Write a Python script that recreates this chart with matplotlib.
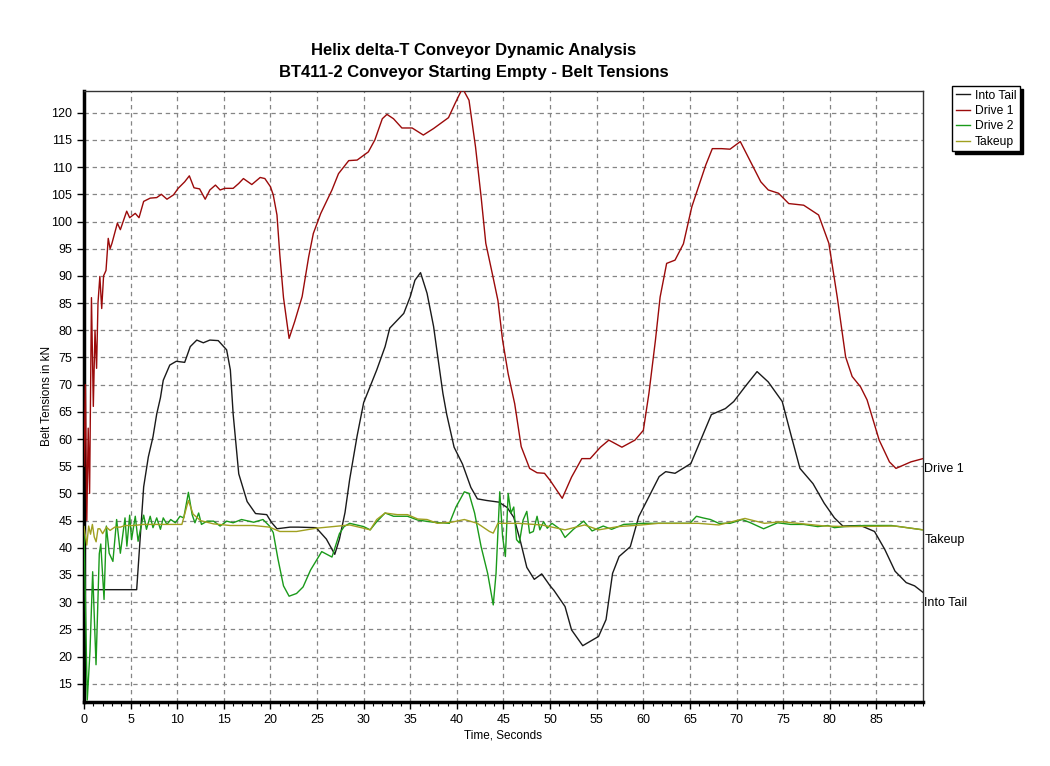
import matplotlib
matplotlib.use("Agg")
import matplotlib.pyplot as plt
from matplotlib.ticker import MultipleLocator

plt.rcParams['font.family'] = ['Liberation Sans', 'DejaVu Sans']

# ---------------- data ----------------
t_drive1 = [0.0, 0.15, 0.3, 0.45, 0.6, 0.8, 1.0, 1.18, 1.35, 1.5, 1.7, 1.9, 2.1, 2.36, 2.6, 2.8, 3.0,
            3.58, 3.9, 4.58, 4.9, 5.5, 5.9, 6.4, 7.1, 7.8, 8.3, 8.9, 9.6, 10.1, 10.8, 11.3, 11.8,
            12.4, 13.0, 13.5, 14.1, 14.6, 15.1, 16.0, 16.6, 17.1, 18.0, 18.9, 19.4, 20.0, 20.3,
            20.7, 21.0, 21.4, 22.0, 22.6, 23.4, 24.1, 24.6, 25.4, 26.6, 27.3, 28.4, 29.3, 30.5,
            31.2, 32.0, 32.5, 33.2, 34.1, 35.2, 36.4, 37.5, 39.1, 39.8, 40.6, 41.3, 42.0, 42.6,
            43.1, 43.8, 44.4, 44.9, 45.5, 46.2, 46.9, 47.8, 48.6, 49.4, 50.0, 51.3, 52.3, 53.4,
            54.3, 55.4, 56.3, 57.7, 59.1, 60.0, 60.6, 61.3, 61.8, 62.5, 63.4, 64.3, 65.2, 65.8,
            66.7, 67.4, 68.4, 69.3, 70.4, 71.5, 72.6, 73.4, 74.5, 75.6, 77.2, 78.8, 79.9, 80.8,
            81.7, 82.4, 83.3, 84.0, 85.3, 86.4, 87.1, 88.7, 90.0]
drive1 = [55, 70, 45, 62, 50, 86, 66, 80, 73, 85, 89.9, 84, 90, 91, 96.9, 95, 96,
          99.7, 98.5, 101.9, 100.7, 101.5, 100.7, 103.7, 104.3, 104.4, 105.0, 104.1, 104.9, 106.1, 107.3, 108.4, 106.2,
          106.0, 104.1, 105.8, 106.7, 105.8, 106.1, 106.1, 107.0, 107.9, 106.8, 108.1, 107.9, 106.4, 104.9,
          101.2, 94, 86, 78.5, 81.6, 86.2, 93.5, 97.8, 101.5, 105.8, 108.8, 111.2, 111.3, 112.8,
          115.0, 118.9, 119.7, 118.9, 117.2, 117.2, 115.9, 117.1, 119.1, 121.7, 124.5, 122.3, 113.7, 104.5,
          96.0, 90.4, 85.5, 78.2, 72, 66.5, 58.6, 54.6, 53.8, 53.7, 52.4, 49.1, 53.0, 56.4,
          56.4, 58.5, 59.8, 58.5, 59.8, 61.6, 68.4, 78.2, 86.1, 92.3, 92.9, 95.9, 102.7, 105.8,
          110.4, 113.4, 113.4, 113.3, 114.7, 111.0, 107.3, 105.8, 105.2, 103.3, 103.0, 101.2, 96.0, 86.1,
          75.1, 71.5, 69.6, 67.2, 59.8, 55.8, 54.6, 55.8, 56.4]

t_tail = [0, 5.65, 6.4, 6.9, 7.4, 7.8, 8.2, 8.5, 9.2, 9.9, 10.8, 11.4, 12.1, 12.8, 13.5, 14.4,
          15.3, 15.7, 16.0, 16.6, 17.5, 18.4, 19.6, 20.1, 20.7, 22.1, 23.0, 24.9, 26.0, 26.9,
          27.4, 28.0, 28.5, 29.3, 30.0, 31.4, 32.3, 32.8, 34.3, 35.0, 35.5, 36.1, 36.8, 37.5,
          38.0, 38.5, 38.9, 39.7, 40.6, 41.5, 42.2, 43.2, 44.5, 45.4, 46.1, 46.8, 47.5, 48.3,
          49.1, 50.0, 50.4, 51.6, 52.3, 53.5, 55.2, 56.0, 56.7, 57.4, 58.6, 59.5, 60.6, 61.7,
          62.4, 63.4, 65.1, 66.2, 67.3, 68.8, 69.7, 70.9, 72.2, 73.4, 74.9, 75.8, 76.8, 78.2,
          79.4, 80.5, 81.4, 83.3, 84.8, 85.9, 87.0, 88.2, 89.1, 90.0]
into_tail = [32.3, 32.3, 51.2, 56.7, 60.4, 64.6, 67.6, 70.8, 73.6, 74.3, 74.1, 77.0, 78.2, 77.7, 78.2, 78.1,
             76.4, 72.7, 64.6, 53.6, 48.5, 46.3, 46.1, 44.7, 43.5, 43.8, 43.8, 43.7, 41.6, 38.8,
             41.6, 46.5, 52.6, 60.6, 66.7, 72.7, 77.0, 80.4, 83.1, 86.2, 89.2, 90.6, 86.8, 80.7,
             74.5, 68.4, 64.6, 58.5, 55.4, 51.1, 49.0, 48.7, 48.4, 47.4, 45.6, 41.3, 36.4, 34.2,
             35.2, 33.0, 32.2, 29.2, 24.9, 22.0, 23.7, 26.8, 35.3, 38.4, 40.2, 45.7, 49.4, 53.1,
             54.0, 53.7, 55.5, 60.0, 64.5, 65.6, 66.9, 69.6, 72.4, 70.5, 66.9, 61.0, 54.6, 51.8,
             48.2, 45.5, 44.0, 44.1, 43.0, 39.7, 35.7, 33.6, 33.0, 31.8]

t_drive2 = [0, 0.35, 0.64, 0.93, 1.29, 1.64, 1.8, 2.15, 2.4, 2.7, 3.1, 3.5, 3.9, 4.4, 4.6, 4.9,
            5.1, 5.5, 5.8, 6.2, 6.4, 6.7, 7.1, 7.4, 7.8, 8.2, 8.5, 8.9, 9.3, 9.8, 10.3, 10.7,
            11.2, 11.6, 11.9, 12.3, 12.6, 13.2, 13.9, 14.6, 15.3, 16.0, 16.9, 18.2, 19.2, 19.9,
            20.3, 20.8, 21.4, 22.0, 22.8, 23.5, 24.3, 25.5, 26.6, 27.4, 27.9, 28.5, 30.0, 30.7,
            31.4, 32.3, 33.2, 34.7, 35.8, 37.5, 39.2, 39.9, 40.8, 41.3, 41.9, 42.6, 43.3, 43.9,
            44.2, 44.6, 44.9, 45.2, 45.5, 45.8, 46.1, 46.4, 46.7, 47.1, 47.5, 47.8, 48.2, 48.6,
            48.9, 49.3, 49.7, 50.2, 51.1, 51.6, 52.5, 53.6, 54.5, 55.7, 56.6, 57.9, 60.0, 62.9,
            65.0, 65.7, 66.4, 67.2, 68.1, 69.3, 70.6, 71.5, 72.9, 74.4, 75.8, 77.2, 78.7, 79.8,
            80.5, 81.6, 83.7, 86.6, 90.0]
drive2 = [43.9, 12.0, 20.9, 35.6, 18.5, 38.9, 40.7, 30.5, 44.0, 39.0, 37.5, 45.2, 39.0, 45.5, 40.3, 46.0,
          41.5, 45.8, 41.2, 44.6, 46.0, 43.4, 45.8, 43.7, 45.5, 43.4, 45.5, 44.3, 45.2, 44.6, 45.8, 45.5,
          50.2, 46.1, 44.6, 46.4, 44.3, 44.9, 44.9, 44.0, 44.9, 44.6, 45.2, 44.7, 45.2, 44.0,
          42.8, 38.0, 33.0, 31.1, 31.6, 32.8, 35.9, 39.3, 38.3, 42.6, 43.9, 44.5, 43.9, 43.3,
          44.8, 46.4, 45.8, 45.8, 45.1, 44.7, 44.5, 47.5, 50.3, 50.0, 46.4, 40.2, 35.3, 29.5,
          35.3, 50.3, 42.1, 38.4, 50.0, 46.4, 47.5, 41.5, 40.9, 45.1, 46.7, 42.7, 43.0, 45.8,
          43.3, 44.8, 43.6, 44.5, 43.4, 41.9, 43.4, 44.9, 43.1, 44.0, 43.4, 44.3, 44.5, 44.5,
          44.5, 45.8, 45.5, 45.2, 44.5, 44.5, 45.2, 44.6, 43.5, 44.6, 44.3, 44.3, 43.9, 44.1,
          43.7, 43.9, 44.1, 44.1, 43.3]

t_takeup = [0, 0.3, 0.5, 0.7, 0.9, 1.1, 1.3, 1.5, 1.7, 2.0, 2.4, 2.8, 3.3, 3.9, 4.4, 5.3, 6.4,
            8.9, 10.5, 11.2, 11.7, 12.5, 13.9, 15.7, 18.2, 19.9, 21.0, 22.8, 24.9, 26.7, 28.5,
            30.0, 30.7, 31.4, 32.3, 33.6, 34.7, 35.8, 36.8, 37.9, 39.4, 40.8, 42.2, 43.5, 43.9,
            44.4, 46.6, 49.1, 51.6, 53.7, 55.2, 57.3, 59.8, 61.6, 65.9, 68.1, 70.9, 73.0, 74.8,
            76.6, 79.5, 82.0, 87.0, 90.0]
takeup = [43.9, 40.5, 44.0, 42.5, 44.3, 42.0, 41.1, 43.5, 43.5, 42.6, 43.8, 43.2, 43.8, 43.8, 44.1, 44.1, 44.3,
          44.3, 44.3, 48.7, 46.2, 45.0, 44.4, 44.1, 44.1, 43.8, 43.0, 43.0, 43.6, 43.9, 44.2,
          43.6, 43.3, 45.2, 46.4, 46.1, 46.1, 45.3, 45.2, 44.5, 44.7, 45.2, 44.5, 43.0, 42.7,
          44.5, 44.5, 44.2, 43.3, 44.2, 43.3, 43.9, 44.2, 44.5, 44.5, 44.2, 45.4, 44.5, 44.8,
          44.5, 44.0, 43.9, 44.0, 43.3]

series_names = ["Into Tail", "Drive 1", "Drive 2", "Takeup"]
series_colors = ["#1a1a1a", "#9b0a0a", "#1a9a1a", "#a0a020"]

title_lines = ["Helix delta-T Conveyor Dynamic Analysis",
               "BT411-2 Conveyor Starting Empty - Belt Tensions"]
x_label = "Time, Seconds"
y_label = "Belt Tensions in kN"

# ---------------- figure ----------------
fig = plt.figure(figsize=(10.5, 7.66), dpi=100)
ax = fig.add_axes([84/1050, 1 - 701.7/766, (923 - 84)/1050, (701.7 - 91)/766])

series = [(t_tail, into_tail), (t_drive1, drive1), (t_drive2, drive2), (t_takeup, takeup)]
handles = []
for (tx, ty), name, col in zip(series, series_names, series_colors):
    h, = ax.plot(tx, ty, color=col, lw=1.0, label=name, zorder=3)
    handles.append(h)

ax.set_xlim(0, 90)
ax.set_ylim(11.7, 124)
ax.xaxis.set_minor_locator(MultipleLocator(1))
ax.set_xticks(list(range(0, 90, 5)))
ax.set_yticks(list(range(15, 125, 5)))

ax.grid(True, which='major', linestyle=(0, (3.5, 3)), color='#858585', lw=0.9)
ax.set_axisbelow(True)

ax.tick_params(axis='both', which='major', direction='out', length=5, width=1, labelsize=9,
               colors='black')
ax.tick_params(axis='x', which='minor', direction='out', length=3, width=0.8)

for side in ['left', 'bottom']:
    ax.spines[side].set_linewidth(2.5)
    ax.spines[side].set_color('black')
for side in ['top', 'right']:
    ax.spines[side].set_linewidth(1.0)
    ax.spines[side].set_color('#333333')

ax.set_xlabel(x_label, fontsize=8.5, labelpad=3)
ax.set_ylabel(y_label, fontsize=8.5, labelpad=-1)

# end-of-line labels
for (tx, ty), name in zip(series, series_names):
    if name == "Drive 2":
        continue
    ax.annotate(name, xy=(tx[-1], ty[-1]), xytext=(1, -3), textcoords='offset points',
                fontsize=9, va='top', ha='left', annotation_clip=False)

# title
fig.text(474/1050, 1 - 50.7/766, title_lines[0], ha='center', va='center',
         fontsize=12, fontweight='bold')
fig.text(474/1050, 1 - 72/766, title_lines[1], ha='center', va='center',
         fontsize=12, fontweight='bold')

leg = fig.legend(handles=handles, labels=series_names, loc='upper left',
                 bbox_to_anchor=(952/1050, 1 - 86/766), bbox_transform=fig.transFigure,
                 borderaxespad=0, fontsize=8.7, frameon=True, fancybox=False,
                 shadow={'color': 'black', 'alpha': 1.0}, handlelength=1.2, handletextpad=0.4,
                 labelspacing=0.28, borderpad=0.3)
leg.get_frame().set_edgecolor('black')
leg.get_frame().set_linewidth(1.0)

fig.savefig("out.png", dpi=100)
